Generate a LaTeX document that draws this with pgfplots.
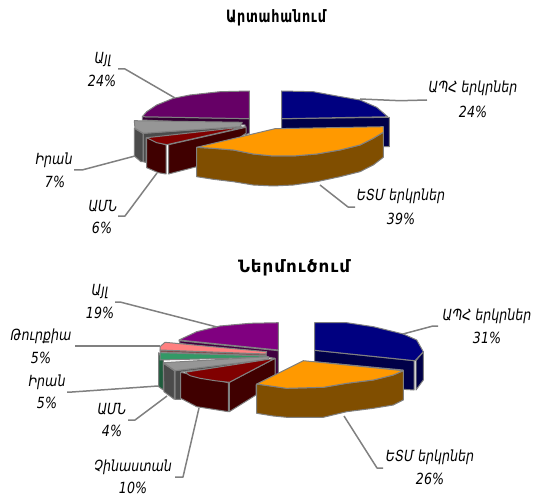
\documentclass[border=0pt]{standalone}
\usepackage{fontspec}
\usepackage{graphicx}
\usepackage{pgfplots}
\pgfplotsset{compat=1.18}
\setmainfont{DejaVu Sans}
\newfontfamily\lbl[Script=Armenian]{DejaVu Sans}
\newfontfamily\ttl[Script=Armenian,LetterSpace=6]{DejaVu Sans}
\definecolor{edge}{HTML}{808080}
\definecolor{navy}{HTML}{000080}
\definecolor{navyD}{HTML}{000048}
\definecolor{amber}{HTML}{FF9900}
\definecolor{amberD}{HTML}{804E00}
\definecolor{plumA}{HTML}{660066}
\definecolor{plumAD}{HTML}{330033}
\definecolor{plumB}{HTML}{800080}
\definecolor{plumBD}{HTML}{400040}
\definecolor{maroon}{HTML}{800000}
\definecolor{maroonD}{HTML}{400000}
\definecolor{silver}{HTML}{969696}
\definecolor{silverD}{HTML}{4B4B4B}
\definecolor{rose}{HTML}{FF8080}
\definecolor{roseD}{HTML}{804040}
\definecolor{jade}{HTML}{339966}
\definecolor{jadeD}{HTML}{1F5C3D}
\pgfplotsset{
  facet/.style={fill=#1,draw=edge,line width=1pt,line join=round},
  lead/.style={draw=edge,line width=1.5pt,line join=round}
}
\newcommand{\slicetext}[3]{\node[font=\lbl\itshape\fontsize{13}{15}\selectfont] at (axis cs:#1,#2) {\scalebox{0.97}[1.18]{#3}};}
\begin{document}
\begin{tikzpicture}
\useasboundingbox (0,0) rectangle (533pt,500pt);
\begin{axis}[
  scale only axis,width=533pt,height=500pt,
  xmin=0,xmax=533,ymin=0,ymax=500,y dir=reverse,
  hide axis,clip=true]

% Exports: slices, back to front
\addplot[facet=plumAD] coordinates {(142.3,116.7)(249.3,118.7)(249.3,133.3)(245,135)(245,125)(142.3,120)} -- cycle;
\addplot[facet=plumA] coordinates {(249.3,91)(220,91.7)(190,95)(173.3,98.3)(156.7,105)(146.7,111.7)(142.3,116.7)(249.3,118.7)} -- cycle;
\addplot[facet=navyD] coordinates {(281.7,118.7)(389.3,117.3)(389.3,146.7)(380,146.7)(380,130)(281.7,129.3)} -- cycle;
\addplot[facet=navy] coordinates {(281.7,91)(313.3,91.7)(336.7,96)(360,100)(376.7,107.3)(387.7,116.7)(281.7,118.7)} -- cycle;
\addplot[facet=silverD] coordinates {(134.3,128.3)(143,133.5)(143,161.7)(141,161.7)(134.3,156)} -- cycle;
\addplot[facet=silverD] coordinates {(143.3,133.3)(240,126.7)(242,127)(242,130)(200,135)(146,138)(146,162.5)(143.3,161.7)} -- cycle;
\addplot[facet=silver] coordinates {(134.3,120.7)(242.3,122.3)(240,126.7)(190,130)(143.3,133.3)(135,128.3)} -- cycle;
\addplot[facet=maroonD] coordinates {(146.7,137.7)(166,145)(166,174)(158.3,172.7)(146.7,167.7)} -- cycle;
\addplot[facet=maroonD] coordinates {(168.5,144.7)(246,127.3)(246,133.3)(196.7,166.7)(168.5,174)} -- cycle;
\addplot[facet=maroon] coordinates {(146.7,137.7)(246,126.7)(166.7,144.7)(156.7,142.7)} -- cycle;
\addplot[facet=amberD] coordinates {(196.7,147.3)(213.3,148.3)(233.3,150)(253.3,154)(273.3,156)(293.3,156)(316.7,154)(340,150)(360,145)(373.3,138.3)(383.3,132.3)(383.3,157.3)(373.3,165)(360,171.7)(340,176.7)(316.7,181.7)(293.3,185)(273.3,186)(253.3,185)(233.3,181.7)(213.3,179.3)(196.7,176.7)} -- cycle;
\addplot[facet=amber] coordinates {(275,128.7)(383.3,126.7)(383.3,132.3)(373.3,138.3)(360,145)(340,150)(316.7,154)(293.3,156)(273.3,156)(253.3,154)(233.3,150)(213.3,148.3)(196.7,147.3)} -- cycle;

% Exports: leader lines
\addplot[lead] coordinates {(360,99)(400,100.7)(427,100)};
\addplot[lead] coordinates {(320,185)(348,207)(355,207)};
\addplot[lead] coordinates {(175,98)(125,69)(118,69)};
\addplot[lead] coordinates {(135,156)(82,170)(74,170)};
\addplot[lead] coordinates {(157,173)(125,216)(118,216)};

% Imports: slices, back to front
\addplot[facet=plumBD] coordinates {(179,340.7)(278.3,350.7)(278.3,375)(275,375)(275,358.3)(180,343.3)} -- cycle;
\addplot[facet=plumB] coordinates {(278.3,322.7)(250,323.3)(220,326)(196.7,331.7)(179,340)(278.3,350)} -- cycle;
\addplot[facet=navyD] coordinates {(314.7,350.3)(414,360.7)(414,390)(403,389.3)(403,370)(314.7,361.7)} -- cycle;
\addplot[facet=navyD] coordinates {(416,360.7)(423.3,351.7)(423.3,380)(416,390)} -- cycle;
\addplot[facet=navy] coordinates {(314.7,322.7)(346.7,322.7)(373.3,326.7)(403.3,334)(416.7,340)(423.3,351.7)(415,360.7)(314.7,350.3)} -- cycle;
\addplot[facet=roseD] coordinates {(160,350)(266,354)(266,355.7)(160,352)} -- cycle;
\addplot[facet=rose] coordinates {(165,342.3)(266.7,351.7)(266,354)(160,350)(160,346.7)} -- cycle;
\addplot[facet=jadeD] coordinates {(158.7,352.7)(163.3,360)(163.3,390)(158.7,386.7)} -- cycle;
\addplot[facet=jade] coordinates {(160,352.7)(266.7,356)(266.7,357.3)(160,360)} -- cycle;
\addplot[facet=silverD] coordinates {(163.3,363.3)(174.3,370.7)(174.3,399.3)(164,391.7)} -- cycle;
\addplot[facet=silverD] coordinates {(175,370.7)(268.3,359.3)(268.3,361.7)(181.7,371.7)(180.7,399.3)(175,399.3)} -- cycle;
\addplot[facet=silver] coordinates {(163.3,362.7)(268.3,356.7)(268.3,359.3)(175,370.7)} -- cycle;
\addplot[facet=maroonD] coordinates {(180.7,372.3)(228.3,382.7)(228.3,411.7)(213.3,409.3)(196.7,406.7)(180.7,398.3)} -- cycle;
\addplot[facet=maroonD] coordinates {(229.3,382.3)(275,358.3)(275,375)(256,385)(256,395)(229.3,411.7)} -- cycle;
\addplot[facet=maroon] coordinates {(185,372.3)(275,358.3)(229.3,382.3)(215,380.7)(200,378.3)(190,375.7)} -- cycle;
\addplot[facet=amberD] coordinates {(256.7,384)(286.7,388.3)(323.3,387.3)(346.7,383.3)(373.3,380)(393.3,375)(403.3,370.7)(403.3,400)(393.3,405)(373.3,408.3)(346.7,411.7)(323.3,417.3)(286.7,417.3)(273.3,416)(256.7,413.3)} -- cycle;
\addplot[facet=amber] coordinates {(303.3,360.7)(403.3,370.7)(393.3,375)(373.3,380)(346.7,383.3)(323.3,387.3)(286.7,388.3)(256.7,384)} -- cycle;

% Imports: leader lines
\addplot[lead] coordinates {(403,334)(433,326)(438,326)};
\addplot[lead] coordinates {(344,416)(377,468)(383,468)};
\addplot[lead] coordinates {(217,327)(120,302)(115,302)};
\addplot[lead] coordinates {(160,346)(75,346)};
\addplot[lead] coordinates {(158,386)(72,392)(67,392)};
\addplot[lead] coordinates {(167,396)(135,420)(128,420)};
\addplot[lead] coordinates {(199,408)(183,477)(175,477)};

% Titles
\node[font=\ttl\bfseries\fontsize{17}{19}\selectfont] at (axis cs:276,18) {\resizebox{100pt}{\height}{Արտահանում}};
\node[font=\ttl\bfseries\fontsize{17}{19}\selectfont] at (axis cs:294,268) {\resizebox{112pt}{\height}{Ներմուծում}};

% Slice captions
\slicetext{473}{88}{ԱՊՀ երկրներ}\slicetext{473}{112}{24\%}
\slicetext{401}{196}{ԵՏՄ երկրներ}\slicetext{401}{219}{39\%}
\slicetext{103}{60}{Այլ}\slicetext{102}{81}{24\%}
\slicetext{54}{160}{Իրան}\slicetext{55}{182}{7\%}
\slicetext{103}{206}{ԱՄՆ}\slicetext{102}{228}{6\%}
\slicetext{487}{316}{ԱՊՀ երկրներ}\slicetext{487}{338}{31\%}
\slicetext{430}{457}{ԵՏՄ երկրներ}\slicetext{430}{479}{26\%}
\slicetext{100}{292}{Այլ}\slicetext{100}{313}{19\%}
\slicetext{41}{336}{Թուրքիա}\slicetext{41}{358}{5\%}
\slicetext{47}{382}{Իրան}\slicetext{47}{403}{5\%}
\slicetext{112}{409}{ԱՄՆ}\slicetext{112}{431}{4\%}
\slicetext{133}{467}{Չինաստան}\slicetext{133}{488}{10\%}
\end{axis}
\end{tikzpicture}
\end{document}
